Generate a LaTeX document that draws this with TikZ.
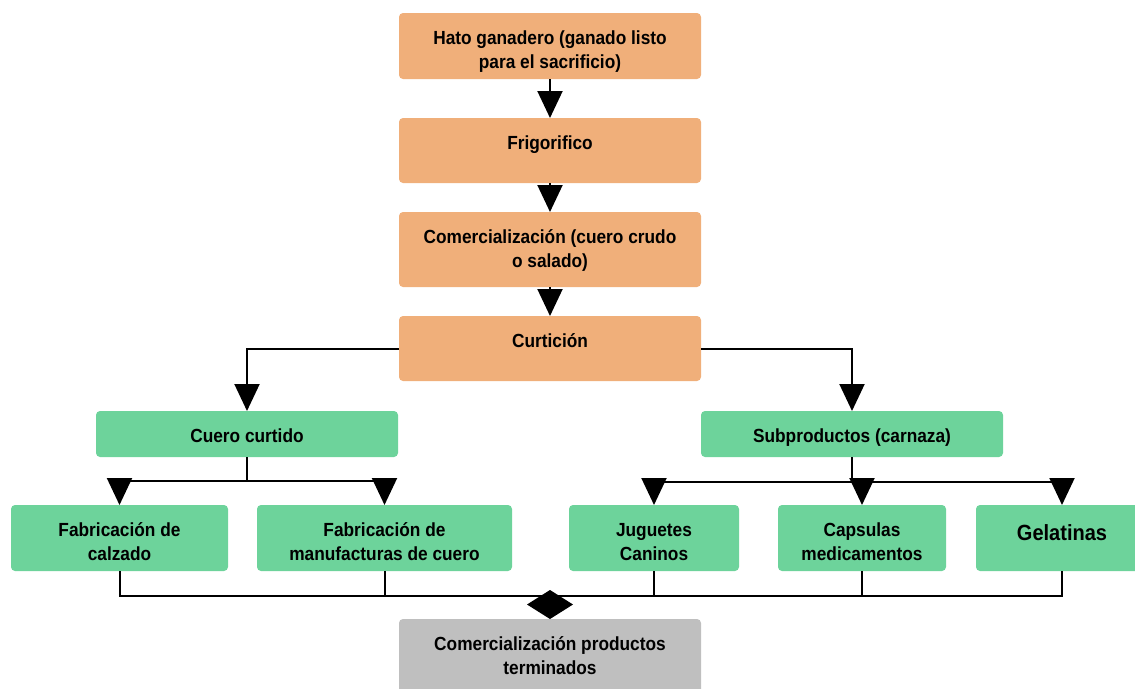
\documentclass[tikz,border=0pt]{standalone}
\usepackage{fontspec}
\usepackage{tikz}
\usetikzlibrary{positioning}
\usetikzlibrary{shapes,arrows.meta}
\newfontfamily\boxfont[FakeStretch=0.91]{Liberation Sans}
\definecolor{naranja}{RGB}{240,175,122}
\definecolor{verde}{RGB}{109,211,155}
\definecolor{gris}{RGB}{191,191,191}
\tikzstyle{block} = [rectangle, rounded corners=4pt, align=center, inner xsep=4pt, inner ysep=0pt, outer sep=0pt,
text height=31pt, font=\boxfont\bfseries\fontsize{19}{24}\selectfont ]
\tikzstyle{twolines} = [text height=55pt]
\tikzstyle{line} = [draw, line width=2pt, -{Triangle[length=27pt,width=25pt]}]
\tikzstyle{wire} = [draw, line width=2pt]

\begin{document}
\begin{tikzpicture}[node distance = 30pt]
   \useasboundingbox (0,0) rectangle (1135pt,-688pt);
    % nodes
   \node [block, twolines, fill=naranja, minimum width=302pt, text depth=11pt, anchor=north] (hato) at (550pt,-13pt) {Hato ganadero (ganado listo\\para el sacrificio)};
   \node [block, fill=naranja, minimum width=302pt, text depth=34pt, below=39pt of hato] (frig) {Frigorifico};
   \node [block, twolines, fill=naranja, minimum width=302pt, text depth=20pt, below=29pt of frig] (comer) {Comercialización (cuero crudo\\o salado)};
   \node [block, fill=naranja, minimum width=302pt, text depth=34pt, below=29pt of comer] (curt) {Curtición};
   \node [block, fill=verde, minimum width=302pt, text depth=15pt, below=30pt of curt, xshift=-303pt] (cuero) {Cuero curtido};
   \node [block, fill=verde, minimum width=302pt, text depth=15pt, below=30pt of curt, xshift=302pt] (subp) {Subproductos (carnaza)};
   \node [block, twolines, fill=verde, minimum width=217pt, text depth=11pt, below=48pt of cuero, xshift=-127.5pt] (fabcal) {Fabricación de\\calzado};
   \node [block, twolines, fill=verde, minimum width=255pt, text depth=11pt, below=48pt of cuero, xshift=137.5pt] (fabman) {Fabricación de\\manufacturas de cuero};
   \node [block, twolines, fill=verde, minimum width=170pt, text depth=11pt, below=48pt of subp, xshift=-198pt] (jug) {Juguetes\\Caninos};
   \node [block, twolines, fill=verde, minimum width=168pt, text depth=11pt, below=48pt of subp, xshift=10pt] (caps) {Capsulas\\medicamentos};
   \node [block, fill=verde, minimum width=172pt, text height=35pt, text depth=31pt, below=48pt of subp, xshift=210pt,
          font=\boxfont\bfseries\fontsize{22}{26}\selectfont] (gel) {Gelatinas};
   \node [block, twolines, fill=gris, minimum width=302pt, text depth=20pt, below=48pt of fabman, xshift=165.5pt] (final) {Comercialización productos\\terminados};
   \coordinate [above=23pt of final] (merge);

    % edges
          \path [line] (hato) -- (frig);
          \path [line] (frig) -- (comer);
          \path [line] (comer) -- (curt);
          \draw [line] (curt.west) -| (cuero);
          \draw [line] (curt.east) -| (subp);
          \draw [line] (cuero.south) -- ++(0,-24pt) -| (fabcal);
          \draw [line] (cuero.south) -- ++(0,-24pt) -| (fabman);
          \draw [line] (subp.south) -- ++(0,-25pt) -| (jug);
          \draw [line] (subp.south) -- ++(0,-25pt) -| (caps);
          \draw [line] (subp.south) -- ++(0,-25pt) -| (gel);
          \draw [wire] (fabcal.south) |- (merge) -| (gel.south);
          \draw [wire] (fabman.south) -- (fabman.south |- merge);
          \draw [wire] (jug.south) -- (jug.south |- merge);
          \draw [wire] (caps.south) -- (caps.south |- merge);
          \draw [wire, -{Diamond[length=29pt,width=46pt]}] (merge) -- (final);

  \end{tikzpicture}
\end{document}
